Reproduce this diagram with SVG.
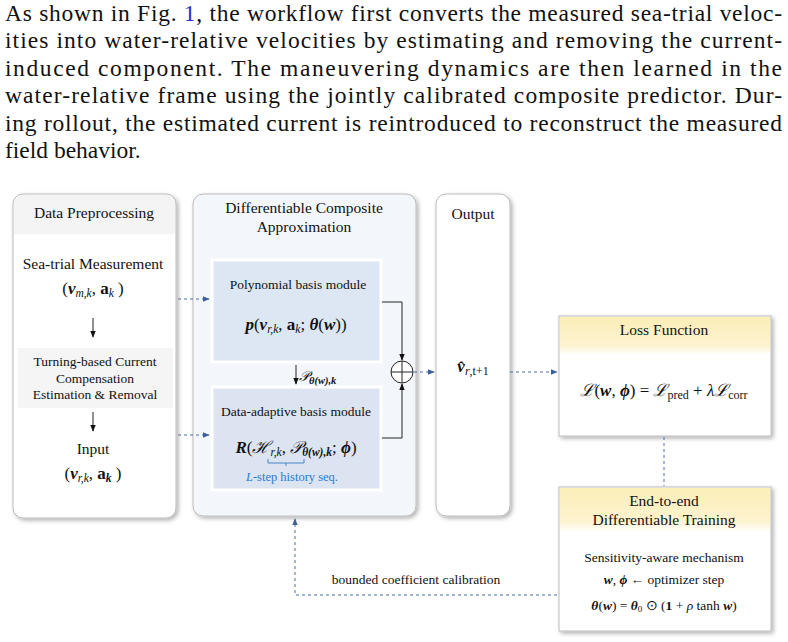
<svg xmlns="http://www.w3.org/2000/svg" width="788" height="642" viewBox="0 0 788 642">
<style>
.p{font-family:"Liberation Serif",serif;font-size:23.5px;fill:#111}
.t{font-family:"Liberation Serif",serif;font-size:15.5px;fill:#111;text-anchor:middle}
.s{font-family:"Liberation Serif",serif;font-size:13.5px;fill:#111;text-anchor:middle}
.m{font-family:"Liberation Serif",serif;font-size:17px;fill:#111;text-anchor:middle}
.bi{font-weight:bold;font-style:italic}
.dash{stroke:#4a6fa5;stroke-width:1;stroke-dasharray:3 3;fill:none}
.sol{stroke:#222;stroke-width:1;fill:none}
</style>
<defs>
<marker id="ab" viewBox="0 0 10 10" refX="9" refY="5" markerWidth="7" markerHeight="7" orient="auto"><path d="M0,1 L10,5 L0,9 z" fill="#3a5f9a"/></marker>
<marker id="ak" viewBox="0 0 10 10" refX="9" refY="5" markerWidth="7" markerHeight="7" orient="auto"><path d="M0,1 L10,5 L0,9 z" fill="#111"/></marker>
<linearGradient id="yl" x1="0" y1="0" x2="0" y2="1"><stop offset="0" stop-color="#fbeeb8"/><stop offset="0.75" stop-color="#fdf3cf"/><stop offset="1" stop-color="#ffffff"/></linearGradient>
<filter id="sh" x="-10%" y="-10%" width="120%" height="120%"><feDropShadow dx="2" dy="2" stdDeviation="2" flood-color="#000" flood-opacity="0.3"/></filter>
</defs>
<rect width="788" height="642" fill="#fff"/>
<g id="paragraph">
<text class="p" x="5" y="21" textLength="777" lengthAdjust="spacing">As shown in Fig. <tspan fill="#2233cc">1</tspan>, the workflow first converts the measured sea-trial veloc-</text>
<text class="p" x="5" y="48" textLength="777" lengthAdjust="spacing">ities into water-relative velocities by estimating and removing the current-</text>
<text class="p" x="5" y="76" textLength="777" lengthAdjust="spacing">induced component.  The maneuvering dynamics are then learned in the</text>
<text class="p" x="5" y="103" textLength="777" lengthAdjust="spacing">water-relative frame using the jointly calibrated composite predictor.  Dur-</text>
<text class="p" x="5" y="131" textLength="777" lengthAdjust="spacing">ing rollout, the estimated current is reintroduced to reconstruct the measured</text>
<text class="p" x="5" y="158">field behavior.</text>
</g>
<g id="preprocessing">
<rect x="13" y="194" width="163" height="324" rx="10" fill="#fff" stroke="#bbb" filter="url(#sh)"/>
<path d="M14,234 V204 a9,9 0 0 1 9,-9 H166 a9,9 0 0 1 9,9 V234 Z" fill="#f4f4f4"/>
<text class="t" x="94" y="218">Data Preprocessing</text>
<text class="t" x="93" y="269">Sea-trial Measurement</text>
<text class="m" x="93" y="294">(<tspan class="bi">v</tspan><tspan font-size="11.5" font-style="italic" dy="3">m,k</tspan><tspan dy="-3">, </tspan><tspan font-weight="bold">a</tspan><tspan font-size="11.5" font-style="italic" dy="3">k</tspan><tspan dy="-3"> )</tspan></text>
<line class="sol" x1="93" y1="318" x2="93" y2="337" marker-end="url(#ak)"/>
<rect x="18" y="348" width="155" height="60" fill="#f5f5f5"/>
<text class="s" x="95" y="366">Turning-based Current</text>
<text class="s" x="95" y="383">Compensation</text>
<text class="s" x="95" y="399">Estimation &amp; Removal</text>
<line class="sol" x1="93" y1="412" x2="93" y2="431" marker-end="url(#ak)"/>
<text class="t" x="93" y="454">Input</text>
<text class="m" x="93" y="479">(<tspan class="bi">v</tspan><tspan font-size="11.5" font-style="italic" dy="3">r,k</tspan><tspan dy="-3">, </tspan><tspan font-weight="bold">a</tspan><tspan font-size="11.5" font-weight="bold" font-style="italic" dy="3">k</tspan><tspan dy="-3"> )</tspan></text>
</g>
<g id="composite">
<rect x="193" y="194" width="223" height="322" rx="10" fill="#f3f7fb" stroke="#bbb" filter="url(#sh)"/>
<text class="t" x="304" y="213">Differentiable Composite</text>
<text class="t" x="304" y="232">Approximation</text>
</g>
<g id="polynomial">
<rect x="212" y="260" width="169" height="102" fill="#dce7f3" stroke="#fff" stroke-width="3"/>
<text class="s" x="298" y="289">Polynomial basis module</text>
<text class="m" x="296" y="330"><tspan class="bi">p</tspan>(<tspan class="bi">v</tspan><tspan font-size="11.5" font-style="italic" dy="3">r,k</tspan><tspan dy="-3">, </tspan><tspan font-weight="bold">a</tspan><tspan font-size="11.5" font-style="italic" dy="3">k</tspan><tspan dy="-3">; </tspan><tspan class="bi">θ</tspan>(<tspan class="bi">w</tspan>))</text>
</g>
<g id="adaptive">
<rect x="212" y="387" width="169" height="103" fill="#dce3f1" stroke="#fff" stroke-width="3"/>
<text class="s" x="296" y="416">Data-adaptive basis module</text>
<text class="m" x="296" y="453"><tspan class="bi">R</tspan>(<tspan font-style="italic">ℋ</tspan><tspan font-size="11.5" font-style="italic" dy="3">r,k</tspan><tspan dy="-3">, </tspan><tspan font-style="italic">𝒫</tspan><tspan font-size="11.5" font-weight="bold" font-style="italic" dy="3">θ(w),k</tspan><tspan dy="-3">; </tspan><tspan class="bi">ϕ</tspan>)</text>
<path d="M268,459 v4 h36 v-4 M286,463 v3" stroke="#4a86c8" fill="none"/>
<text x="292" y="481" font-family="Liberation Serif,serif" font-size="12.5" fill="#2a7bd0" text-anchor="middle"><tspan font-style="italic">L</tspan>-step history seq.</text>
</g>
<g id="output">
<rect x="436" y="194" width="74" height="322" rx="10" fill="#fff" stroke="#bbb" filter="url(#sh)"/>
<text class="t" x="473" y="219">Output</text>
<text class="m" x="473" y="372"><tspan class="bi">v̂</tspan><tspan font-size="12" dy="3"><tspan font-style="italic">r</tspan>,t+1</tspan></text>
</g>
<g id="loss">
<rect x="559" y="316" width="212" height="120" fill="#fff" stroke="#bbb" filter="url(#sh)"/>
<rect x="560" y="317" width="210" height="38" fill="url(#yl)"/>
<text class="t" x="664" y="335">Loss Function</text>
<text class="m" x="664" y="396"><tspan font-style="italic">ℒ</tspan>(<tspan class="bi">w</tspan>, <tspan class="bi">ϕ</tspan>) = <tspan font-style="italic">ℒ</tspan><tspan font-size="12" dy="3">pred</tspan><tspan dy="-3"> + </tspan><tspan font-style="italic">λℒ</tspan><tspan font-size="12" dy="3">corr</tspan></text>
</g>
<g id="training">
<rect x="559" y="487" width="212" height="144" fill="#fff" stroke="#bbb" filter="url(#sh)"/>
<rect x="560" y="488" width="210" height="44" fill="url(#yl)"/>
<text class="t" x="664" y="506">End-to-end</text>
<text class="t" x="664" y="525">Differentiable Training</text>
<text class="s" x="664" y="562">Sensitivity-aware mechanism</text>
<text class="s" x="664" y="584"><tspan class="bi">w</tspan>, <tspan class="bi">ϕ</tspan> ← optimizer step</text>
<text class="s" x="664" y="610"><tspan class="bi">θ</tspan>(<tspan class="bi">w</tspan>)  = <tspan class="bi">θ</tspan><tspan font-size="9" dy="2">0</tspan><tspan dy="-2"> ⊙  (</tspan><tspan font-weight="bold">1</tspan>  + <tspan font-style="italic">ρ</tspan> tanh <tspan class="bi">w</tspan>)</text>
</g>
<g id="connectors">
<line class="dash" x1="178" y1="299" x2="209" y2="299" marker-end="url(#ab)"/>
<line class="dash" x1="178" y1="435" x2="209" y2="435" marker-end="url(#ab)"/>
<polyline class="sol" points="382,302 402,302 402,360" marker-end="url(#ak)"/>
<polyline class="sol" points="382,438 402,438 402,384" marker-end="url(#ak)"/>
<circle cx="402" cy="372" r="11" fill="#fff" stroke="#222"/>
<path d="M391,372 H413 M402,361 V383" stroke="#222"/>
<line class="sol" x1="296" y1="365" x2="296" y2="384" marker-end="url(#ak)"/>
<text x="299" y="381" font-family="Liberation Serif,serif" font-size="14" font-style="italic" fill="#111">𝒫<tspan font-size="10.5" font-weight="bold" dy="3">θ(w),k</tspan></text>
<line class="dash" x1="414" y1="372" x2="434" y2="372" marker-end="url(#ab)"/>
<line class="dash" x1="510" y1="372" x2="557" y2="372" marker-end="url(#ab)"/>
<line class="dash" x1="664" y1="437" x2="664" y2="486"/>
<polyline class="dash" points="557,595 295,595 295,519" marker-end="url(#ab)"/>
<text x="416" y="584" font-family="Liberation Serif,serif" font-size="13.5" fill="#111" text-anchor="middle">bounded coefficient calibration</text>
</g>
</svg>
